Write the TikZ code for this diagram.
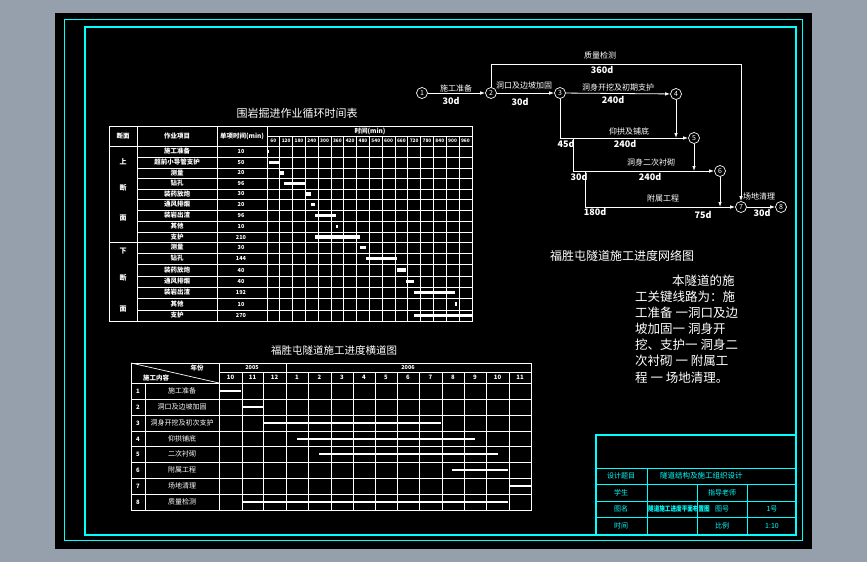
\documentclass[tikz,border=0pt]{standalone}
\usepackage{fontspec}
\newfontfamily\cjk{Noto Sans CJK SC}
\usetikzlibrary{arrows.meta}
\definecolor{cadcyan}{RGB}{0,255,255}
\definecolor{bggray}{RGB}{150,160,172}
\tikzset{
  ln/.style={draw=white,line width=0.7pt},
  tw/.style={text=white,inner sep=0pt},
  tc/.style={text=cadcyan,inner sep=0pt},
  fs/.style={font=\cjk\fontsize{#1}{#1}\selectfont},
  fb/.style={font=\cjk\bfseries\fontsize{#1}{#1}\selectfont},
  circ/.style={circle,draw=white,line width=0.7pt,minimum size=11pt,inner sep=0pt,text=white,font=\cjk\fontsize{7}{7}\selectfont},
  arr/.style={draw=white,line width=0.8pt,-{Latex[length=5pt,width=3.5pt]}},
  cyt/.style={draw=cadcyan,line width=1.8pt},
  cyn/.style={draw=cadcyan,line width=0.9pt},
  barw/.style={draw=white,line width=2.6pt}
}
\begin{document}
\begin{tikzpicture}[x=1pt,y=-1pt]
\useasboundingbox (0,0) rectangle (867,562);
\fill[bggray] (0,0) rectangle (867,562);
\fill[black] (55,13) rectangle (812,549);
% frames
\draw[cyn] (64,19) rectangle (802,540);
\draw[cyt] (85,27) rectangle (796,535);

% ================= Table 1 =================
\node[tw,fs=11] (t1title) at (297,113) {围岩掘进作业循环时间表};
\draw[ln] (109,126) rectangle (472,321);
\foreach \x in {137,217,267} \draw[ln] (\x,126) -- (\x,321);
\draw[ln] (267,136) -- (472,136);
\draw[ln] (109,146) -- (472,146);
\draw[ln] (109,242) -- (472,242);
\foreach \y in {157,168,178,189,199,210,221,232,253,264,276,287,298,310} \draw[ln] (137,\y) -- (472,\y);
\foreach \k in {1,...,15} \draw[ln] ({267+12.8*\k},136) -- ({267+12.8*\k},321);
\node[tw,fb=6.5] (h1) at (123,136) {断面};
\node[tw,fb=6.5] (h2) at (177,136) {作业项目};
\node[tw,fb=6.5] (h3) at (242,136) {单项时间(min)};
\node[tw,fb=6.5] (h4) at (370,131) {时间(min)};
\foreach \k/\lab in {1/60,2/120,3/180,4/240,5/300,6/360,7/420,8/480,9/540,10/600,11/660,12/720,13/780,14/840,15/900,16/960}
  \node[tw,fb=4.8] (tl\k) at ({267+12.8*\k-6.4},141) {\lab};
\node[tw,fb=7] (s1) at (123,162) {上};
\node[tw,fb=7] (s2) at (123,188) {断};
\node[tw,fb=7] (s3) at (123,218) {面};
\node[tw,fb=7] (s4) at (123,251) {下};
\node[tw,fb=7] (s5) at (123,278) {断};
\node[tw,fb=7] (s6) at (123,309) {面};
\foreach \t/\bm/\nm/\v/\a/\b in {
146/157/施工准备/10/0/10,
157/168/超前小导管支护/50/10/60,
168/178/测量/20/60/80,
178/189/钻孔/96/80/176,
189/199/装药放炮/30/176/206,
199/210/通风排烟/20/206/226,
210/221/装岩出渣/96/226/322,
221/232/其他/10/322/332,
232/242/支护/210/226/436,
242/253/测量/30/436/466,
253/264/钻孔/144/466/610,
264/276/装药放炮/40/610/650,
276/287/通风排烟/40/650/690,
287/298/装岩出渣/192/690/882,
298/310/其他/10/882/892,
310/321/支护/270/690/960}
{
  \node[tw,fb=6.5] (ra\t) at (177,{(\t+\bm)/2}) {\nm};
  \node[tw,fb=5.5] (rv\t) at (241,{(\t+\bm)/2}) {\v};
  \fill[white] ({267+\a*0.21333},{(\t+\bm)/2-1.7}) rectangle ({267+\b*0.21333},{(\t+\bm)/2+1.7});
}

% ================= Table 2 =================
\node[tw,fs=10.5] (t2title) at (334,350) {福胜屯隧道施工进度横道图};
\draw[ln] (131,363) rectangle (531,510);
\draw[ln] (219,372) -- (531,372);
\foreach \y in {383,399,415,431,446,462,478,494} \draw[ln] (131,\y) -- (531,\y);
\draw[ln] (145,383) -- (145,510);
\draw[ln] (219,363) -- (219,510);
\draw[ln] (286,363) -- (286,510);
\foreach \x in {242,263,308,331,353,375,397,419,442,464,486,509} \draw[ln] (\x,372) -- (\x,510);
\draw[ln] (131,363) -- (219,383);
\node[tw,fb=6.5] (yr) at (197,368) {年份};
\node[tw,fb=6.5] (nr) at (156,378) {施工内容};
\node[tw,fb=5.5] (y05) at (252,367.5) {2005};
\node[tw,fb=5.5] (y06) at (408,367.5) {2006};
\foreach \a/\b/\m in {219/242/10,242/263/11,263/286/12,286/308/1,308/331/2,331/353/3,353/375/4,375/397/5,397/419/6,419/442/7,442/464/8,464/486/9,486/509/10,509/531/11}
  \node[tw,fb=6] (m\a) at ({(\a+\b)/2},377.5) {\m};
\foreach \i/\t/\nm/\a/\b in {
1/383/施工准备/220/241,
2/399/洞口及边坡加固/242/263,
3/415/洞身开挖及初次支护/263/441,
4/431/仰拱铺底/297/475,
5/446/二次衬砌/319/498,
6/462/附属工程/452/508,
7/478/场地清理/509/531,
8/494/质量检测/242/508}
{
  \node[tw,fb=6] (no\i) at (138,{\t+8}) {\i};
  \node[tw,fs=7] (tk\i) at (182,{\t+8}) {\nm};
  \draw[barw] (\a,{\t+8}) -- (\b,{\t+8});
}

% ================= Network =================
\node[circ] (n1) at (422,93) {1};
\node[circ] (n2) at (491,93) {2};
\node[circ] (n3) at (560,93) {3};
\node[circ] (n4) at (676,94) {4};
\node[circ] (n5) at (694,138) {5};
\node[circ] (n6) at (720,171) {6};
\node[circ] (n7) at (741,207) {7};
\node[circ] (n8) at (781,207) {8};
\coordinate (ctop) at (741,64);
\coordinate (c45) at (676,138);
\coordinate (b6) at (573,138);
\coordinate (c56) at (694,171);
\coordinate (b7) at (585,171);
\coordinate (c67) at (720,207);
\draw[arr] (n1) -- (n2);
\draw[arr] (n2) -- (n3);
\draw[arr] (n3) -- (n4);
\draw[arr] (n2) |- (ctop) -- (n7);
\draw[arr] (n3) |- (n5);
\draw[arr] (n4) -- (c45);
\draw[arr] (b6) |- (n6);
\draw[arr] (n5) -- (c56);
\draw[arr] (b7) |- (n7);
\draw[arr] (n6) -- (c67);
\draw[arr] (n7) -- (n8);
\node[tw,fs=8] (l1) at (456,88) {施工准备};
\node[tw,fb=9] (d1) at (451,101) {30d};
\node[tw,fs=8] (l2) at (524,85) {洞口及边坡加固};
\node[tw,fb=9] (d2) at (520,102) {30d};
\node[tw,fs=8] (l3) at (618,87) {洞身开挖及初期支护};
\node[tw,fb=9] (d3) at (613,100) {240d};
\node[tw,fs=8] (l4) at (600,55) {质量检测};
\node[tw,fb=9] (d4) at (602,70) {360d};
\node[tw,fs=8] (l5) at (629,131) {仰拱及铺底};
\node[tw,fb=9] (d5) at (625,144) {240d};
\node[tw,fb=9] (d5b) at (566,144) {45d};
\node[tw,fs=8] (l6) at (651,162) {洞身二次衬砌};
\node[tw,fb=9] (d6) at (650,177) {240d};
\node[tw,fb=9] (d6b) at (579,177) {30d};
\node[tw,fs=8] (l7) at (663,198) {附属工程};
\node[tw,fb=9] (d7) at (595,212) {180d};
\node[tw,fb=9] (d7b) at (703,215) {75d};
\node[tw,fs=8] (l8) at (759,196) {场地清理};
\node[tw,fb=9] (d8) at (762,213) {30d};

% ================= Notes =================
\node[tw,fs=12] (ntitle) at (622,256) {福胜屯隧道施工进度网络图};
\node[tw,fs=12.5,anchor=west] (p1) at (672,281) {本隧道的施};
\node[tw,fs=12.5,anchor=west] (p2) at (635,297) {工关键线路为：施};
\node[tw,fs=12.5,anchor=west] (p3) at (635,313) {工准备 一洞口及边};
\node[tw,fs=12.5,anchor=west] (p4) at (635,329) {坡加固一 洞身开};
\node[tw,fs=12.5,anchor=west] (p5) at (635,345) {挖、支护一 洞身二};
\node[tw,fs=12.5,anchor=west] (p6) at (635,361) {次衬砌 一 附属工};
\node[tw,fs=12.5,anchor=west] (p7) at (635,378) {程 一 场地清理。};

% ================= Title block =================
\draw[cyt] (596,535) -- (596,435) -- (796,435);
\foreach \y in {468,484,501,517} \draw[cyn] (596,\y) -- (796,\y);
\draw[cyn] (647,468) -- (647,535);
\draw[cyn] (697,484) -- (697,535);
\draw[cyn] (747,484) -- (747,535);
\node[tc,fs=7] (tb1) at (621,476) {设计题目};
\node[tc,fs=7.5,anchor=west] (tb2) at (660,476) {隧道结构及施工组织设计};
\node[tc,fs=7] (tb3) at (621,492.5) {学生};
\node[tc,fs=7] (tb4) at (722,492.5) {指导老师};
\node[tc,fs=7] (tb5) at (621,509) {图名};
\node[tc,fb=7,anchor=west,xscale=0.8] (tb6) at (648,509) {隧道施工进度平面布置图};
\node[tc,fs=7] (tb7) at (722,509) {图号};
\node[tc,fs=7] (tb8) at (772,509) {1号};
\node[tc,fs=7] (tb9) at (621,526) {时间};
\node[tc,fs=7] (tb10) at (722,526) {比例};
\node[tc,fs=7] (tb11) at (772,526) {1:10};
\end{tikzpicture}
\end{document}
